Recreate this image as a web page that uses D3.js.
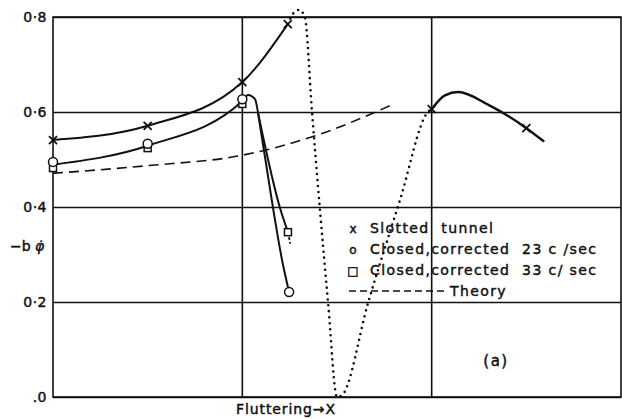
<!DOCTYPE html>
<html>
<head>
<meta charset="utf-8">
<script src="https://cdn.jsdelivr.net/npm/d3@7"></script>
<style>
  body { margin: 0; background: #fff; }
  svg { display: block; }
  text { font-family: "DejaVu Sans", sans-serif; fill: #111; }
  .ink { stroke: #111; stroke-width: 0.45px; }
</style>
</head>
<body>
<div id="chart"></div>
<script>
// data (x in grid units, y = -b phi-dot)
const yTicks = [0, 0.2, 0.4, 0.6, 0.8];
const yTickLabels = [".0", "0·2", "0·4", "0·6", "0·8"];
const xGrid = [1, 2];

// slotted tunnel, solid part left of flutter
const slottedLeft = [[0, 0.541], [0.5, 0.571], [1.0, 0.663], [1.24, 0.785]];
const slottedLeftMarks = [[0, 0.541], [0.5, 0.571], [1.0, 0.663], [1.24, 0.785]];
// slotted tunnel, solid part right of flutter
const slottedRight = [[2.0, 0.606], [2.07, 0.635], [2.14, 0.642], [2.3, 0.615], [2.5, 0.566], [2.59, 0.539]];
const slottedRightMarks = [[2.0, 0.606], [2.5, 0.566]];
// dotted flutter trace
const flutterDots = [[1.24, 0.785], [1.27, 0.808], [1.30, 0.815], [1.33, 0.80], [1.368, 0.60], [1.41, 0.394], [1.453, 0.198], [1.50, 0.0],
  [1.527, 0.004], [1.664, 0.198], [1.833, 0.415], [1.98, 0.60], [2.0, 0.606]];

// closed tunnel, corrected (common part + branches)
const closedTrunk = [[0, 0.489], [0.5, 0.529], [1.0, 0.623], [1.03, 0.636], [1.067, 0.627], [1.083, 0.598]];
const closed23Branch = [[1.083, 0.598], [1.162, 0.398], [1.21, 0.288], [1.247, 0.221]];
const closed33Branch = [[1.083, 0.598], [1.199, 0.398], [1.241, 0.347]];
const closed33Tail = [[1.241, 0.347], [1.253, 0.323]];
const closed23Marks = [[0, 0.495], [0.5, 0.533], [1.0, 0.627], [1.247, 0.221]];
const closed33Marks = [[0, 0.482], [0.5, 0.524], [1.0, 0.617], [1.241, 0.347]];

// theory
const theory = [[0, 0.471], [0.5, 0.487], [1.0, 0.509], [1.4, 0.552], [1.79, 0.615]];

const legendItems = [
  { sym: "x", label: "Slotted  tunnel" },
  { sym: "o", label: "Closed,corrected  23 c /sec" },
  { sym: "□", label: "Closed,corrected  33 c/ sec" },
  { sym: "dash", label: "Theory" }
];

const W = 622, H = 419;
const margin = { top: 17, right: 1, bottom: 22, left: 53 };
const width = W - margin.left - margin.right,
  height = H - margin.top - margin.bottom;

const svg = d3.select("#chart").append("svg")
  .attr("width", W).attr("height", H);
const g = svg.append("g")
  .attr("transform", `translate(${margin.left},${margin.top})`);

const x = d3.scaleLinear().domain([0, 3]).range([0, width]);
const y = d3.scaleLinear().domain([0, 0.8]).range([height, 0]);

// horizontal grid + labels
const yAxis = g.append("g")
  .call(d3.axisLeft(y).tickValues(yTicks)
    .tickSize(-width).tickPadding(6)
    .tickFormat((d, i) => yTickLabels[i]));
yAxis.select(".domain").remove();
yAxis.selectAll("line").attr("stroke", "#111").attr("stroke-width", 1.6);
yAxis.selectAll("text").attr("font-size", 14).attr("fill", "#111").attr("class", "ink")
  .attr("letter-spacing", 0.5)
  .style("font-family", "DejaVu Sans, sans-serif");

// vertical grid
g.selectAll(".vgrid").data(xGrid).enter().append("line")
  .attr("x1", d => x(d)).attr("x2", d => x(d))
  .attr("y1", 0).attr("y2", height)
  .attr("stroke", "#111").attr("stroke-width", 1.6);

// frame
g.append("rect")
  .attr("width", width).attr("height", height)
  .attr("fill", "none").attr("stroke", "#111").attr("stroke-width", 1.6);

const line = d3.line().x(d => x(d[0])).y(d => y(d[1])).curve(d3.curveMonotoneX);
const straight = d3.line().x(d => x(d[0])).y(d => y(d[1]));

function drawPath(data, gen, dash, sw) {
  return g.append("path").datum(data)
    .attr("fill", "none").attr("stroke", "#111")
    .attr("stroke-width", sw || 2)
    .attr("stroke-dasharray", dash || null)
    .attr("stroke-linecap", "round")
    .attr("d", gen);
}

drawPath(theory, line, "10,6", 1.6).attr("stroke-linecap", "butt");
drawPath(slottedLeft, line);
drawPath(slottedRight, line, null, 2.4);
drawPath(flutterDots, line, "0,6", 2.6);
drawPath(closedTrunk, line);
drawPath(closed23Branch, line);
drawPath(closed33Branch, line);
drawPath(closed33Tail, straight, "3,2", 1.8).attr("stroke-linecap", "butt");

// markers
function cross(data) {
  const s = 4;
  const gg = g.append("g");
  data.forEach(d => {
    gg.append("path")
      .attr("d", `M${x(d[0]) - s},${y(d[1]) - s}L${x(d[0]) + s},${y(d[1]) + s}M${x(d[0]) + s},${y(d[1]) - s}L${x(d[0]) - s},${y(d[1]) + s}`)
      .attr("stroke", "#111").attr("stroke-width", 1.8).attr("fill", "none");
  });
}
cross(slottedLeftMarks);
cross(slottedRightMarks);

g.selectAll(".sq").data(closed33Marks).enter().append("rect")
  .attr("x", d => x(d[0]) - 3.5).attr("y", d => y(d[1]) - 3.5)
  .attr("width", 7).attr("height", 7)
  .attr("fill", "#fff").attr("stroke", "#111").attr("stroke-width", 1.5);
g.selectAll(".ci").data(closed23Marks).enter().append("circle")
  .attr("cx", d => x(d[0])).attr("cy", d => y(d[1])).attr("r", 4.5)
  .attr("fill", "#fff").attr("stroke", "#111").attr("stroke-width", 1.5);

// legend
const lg = svg.append("g").attr("transform", "translate(349,233)");
legendItems.forEach((d, i) => {
  const row = lg.append("g").attr("transform", `translate(0,${i * 21})`);
  if (d.sym === "dash") {
    row.append("line").attr("x1", 0).attr("x2", 96).attr("y1", -5).attr("y2", -5)
      .attr("stroke", "#111").attr("stroke-width", 1.4).attr("stroke-dasharray", "7,4");
    row.append("text").attr("x", 101).attr("font-size", 14).attr("class", "ink")
      .attr("letter-spacing", 1.4).text(d.label);
  } else {
    row.append("text").attr("x", 4).attr("text-anchor", "middle").attr("font-size", 12)
      .attr("class", "ink").text(d.sym);
    row.append("text").attr("x", 21).attr("font-size", 14).attr("letter-spacing", 1.4)
      .attr("class", "ink").attr("xml:space", "preserve").text(d.label);
  }
});

// "(a)"
svg.append("text").attr("x", 496).attr("y", 366).attr("text-anchor", "middle")
  .attr("font-size", 15).attr("class", "ink").attr("letter-spacing", 1.5).text("(a)");

// y label
const yl = svg.append("text").attr("x", 10).attr("y", 251).attr("font-size", 14).attr("class", "ink");
yl.append("tspan").text("−b ");
yl.append("tspan").attr("font-style", "italic").text("φ̇");

// x annotation
svg.append("text").attr("x", 236).attr("y", 414).attr("font-size", 14).attr("class", "ink")
  .attr("letter-spacing", 0.9).text("Fluttering→X");
</script>
</body>
</html>
